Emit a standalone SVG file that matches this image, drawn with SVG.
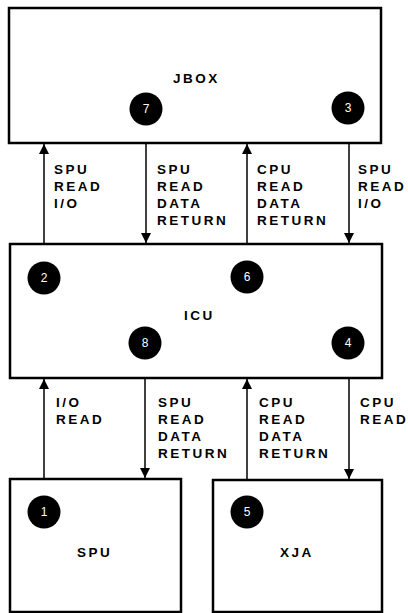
<svg xmlns="http://www.w3.org/2000/svg" width="408" height="613" viewBox="0 0 408 613">
<defs>
<style>
.box{fill:#fff;stroke:#000;stroke-width:2.5}
.lbl{font-family:"Liberation Sans",Arial,sans-serif;font-weight:bold;font-size:13.5px;letter-spacing:2.5px;fill:#000}
.num{font-family:"Liberation Sans",Arial,sans-serif;font-size:12px;fill:#fff;text-anchor:middle}
.dot{fill:#000}
.ln{stroke:#000;stroke-width:1.5;fill:none}
</style>
<marker id="ah" viewBox="0 0 10 10" refX="10" refY="5" markerWidth="10" markerHeight="10" markerUnits="userSpaceOnUse" orient="auto">
<path d="M0,0 L10,5 L0,10 Z" fill="#000"/>
</marker>
</defs>
<rect width="408" height="613" fill="#fff"/>
<g id="connectors">
<line class="ln" x1="44" y1="244" x2="44" y2="144" marker-end="url(#ah)"/>
<line class="ln" x1="146" y1="143" x2="146" y2="243" marker-end="url(#ah)"/>
<line class="ln" x1="247" y1="244" x2="247" y2="144" marker-end="url(#ah)"/>
<line class="ln" x1="349" y1="143" x2="349" y2="243" marker-end="url(#ah)"/>
<line class="ln" x1="44" y1="479" x2="44" y2="379" marker-end="url(#ah)"/>
<line class="ln" x1="145" y1="378" x2="145" y2="478" marker-end="url(#ah)"/>
<line class="ln" x1="247" y1="480" x2="247" y2="379" marker-end="url(#ah)"/>
<line class="ln" x1="349" y1="378" x2="349" y2="479" marker-end="url(#ah)"/>
<text class="lbl" x="54" y="174">SPU</text>
<text class="lbl" x="54" y="191">READ</text>
<text class="lbl" x="54" y="208">I/O</text>
<text class="lbl" x="157" y="174">SPU</text>
<text class="lbl" x="157" y="191">READ</text>
<text class="lbl" x="157" y="208">DATA</text>
<text class="lbl" x="157" y="225">RETURN</text>
<text class="lbl" x="257" y="174">CPU</text>
<text class="lbl" x="257" y="191">READ</text>
<text class="lbl" x="257" y="208">DATA</text>
<text class="lbl" x="257" y="225">RETURN</text>
<text class="lbl" x="358" y="174">SPU</text>
<text class="lbl" x="358" y="191">READ</text>
<text class="lbl" x="358" y="208">I/O</text>
<text class="lbl" x="56" y="407">I/O</text>
<text class="lbl" x="56" y="424">READ</text>
<text class="lbl" x="158" y="407">SPU</text>
<text class="lbl" x="158" y="424">READ</text>
<text class="lbl" x="158" y="441">DATA</text>
<text class="lbl" x="158" y="458">RETURN</text>
<text class="lbl" x="259" y="407">CPU</text>
<text class="lbl" x="259" y="424">READ</text>
<text class="lbl" x="259" y="441">DATA</text>
<text class="lbl" x="259" y="458">RETURN</text>
<text class="lbl" x="360" y="407">CPU</text>
<text class="lbl" x="360" y="424">READ</text>
</g>
<g id="jbox">
<rect class="box" x="9" y="8" width="372" height="135"/>
<text class="lbl" x="173" y="83">JBOX</text>
<circle class="dot" cx="146" cy="109" r="16.5"/>
<text class="num" x="146" y="113">7</text>
<circle class="dot" cx="348" cy="108" r="16.5"/>
<text class="num" x="348" y="112">3</text>
</g>
<g id="icu">
<rect class="box" x="10" y="244" width="372" height="134"/>
<text class="lbl" x="184" y="320">ICU</text>
<circle class="dot" cx="44" cy="278" r="16.5"/>
<text class="num" x="44" y="282">2</text>
<circle class="dot" cx="247" cy="277" r="16.5"/>
<text class="num" x="247" y="281">6</text>
<circle class="dot" cx="145" cy="343" r="16.5"/>
<text class="num" x="145" y="347">8</text>
<circle class="dot" cx="348" cy="343" r="16.5"/>
<text class="num" x="348" y="347">4</text>
</g>
<g id="spu">
<rect class="box" x="10" y="479" width="171" height="133"/>
<text class="lbl" x="77" y="557">SPU</text>
<circle class="dot" cx="44" cy="512" r="16.5"/>
<text class="num" x="44" y="516">1</text>
</g>
<g id="xja">
<rect class="box" x="213" y="480" width="169" height="132"/>
<text class="lbl" x="280" y="557">XJA</text>
<circle class="dot" cx="247" cy="512" r="16.5"/>
<text class="num" x="247" y="516">5</text>
</g>
</svg>
